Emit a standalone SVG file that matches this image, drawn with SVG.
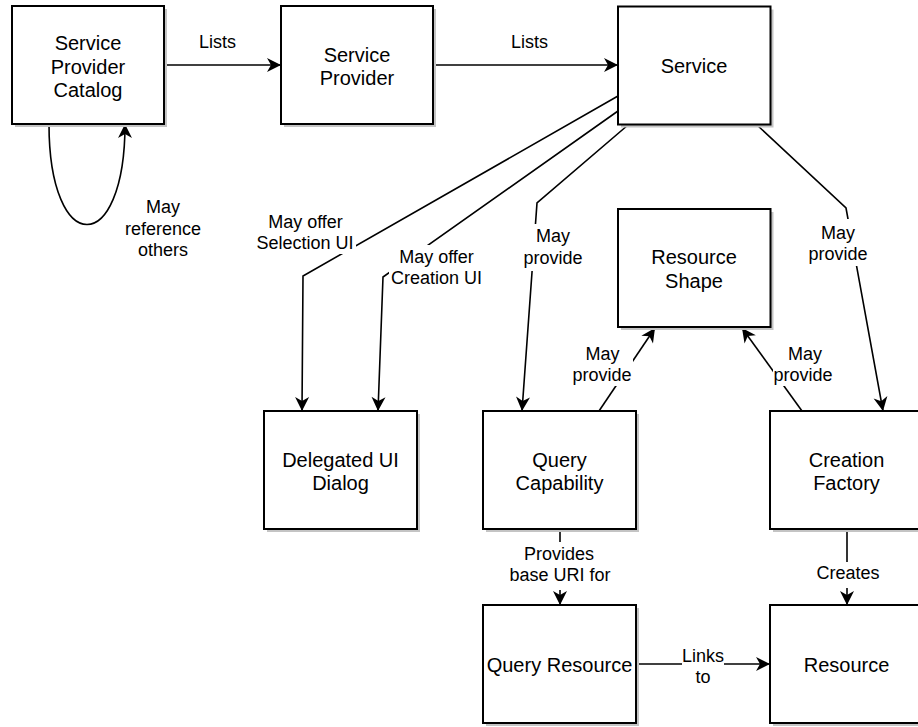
<svg xmlns="http://www.w3.org/2000/svg" width="918" height="727" viewBox="0 0 918 727">
<style>
.box{fill:#fff;stroke:#000;stroke-width:2}
.sh{fill:#c4c4c4}
.nt{font-family:"Liberation Sans",Arial,sans-serif;font-size:20px;fill:#000;text-anchor:middle}
.lt{font-family:"Liberation Sans",Arial,sans-serif;font-size:18px;fill:#000;text-anchor:middle}
.ln{fill:none;stroke:#000;stroke-width:1.6}
.lbg{fill:#fff}
</style>
<defs>
<marker id="arr" viewBox="-15 -8 16 16" refX="0" refY="0" markerWidth="16" markerHeight="16" markerUnits="userSpaceOnUse" orient="auto">
<path d="M0,0 L-14,-7 L-10,0 L-14,7 Z" fill="#000"/>
</marker>
</defs>
<rect width="918" height="727" fill="#fff"/>

<g id="connectors">
<path class="ln" d="M164,65 L281,65" marker-end="url(#arr)"/>
<path class="ln" d="M433,65 L618,65" marker-end="url(#arr)"/>
<path class="ln" d="M49,124 C49,258 125,258 125,124" marker-end="url(#arr)"/>
<path class="ln" d="M618,96 L303,276 L302,411" marker-end="url(#arr)"/>
<path class="ln" d="M618,111 L383,277 L378,411" marker-end="url(#arr)"/>
<path class="ln" d="M628,125 L537,203 L522,411" marker-end="url(#arr)"/>
<path class="ln" d="M757,125 L846,208 L883,411" marker-end="url(#arr)"/>
<path class="ln" d="M599,411 L655,328" marker-end="url(#arr)"/>
<path class="ln" d="M802,411 L742,328" marker-end="url(#arr)"/>
<path class="ln" d="M560,529 L560,605" marker-end="url(#arr)"/>
<path class="ln" d="M847,529 L847,605" marker-end="url(#arr)"/>
<path class="ln" d="M636,664 L770,664" marker-end="url(#arr)"/>

<g id="labels">
<text class="lt" x="217.5" y="48">Lists</text>
<text class="lt" x="529.5" y="48">Lists</text>
<text class="lt" x="163" y="213">May</text>
<text class="lt" x="163" y="234.5">reference</text>
<text class="lt" x="163" y="256">others</text>
<rect class="lbg" x="255" y="211" width="101" height="43"/>
<text class="lt" x="305.5" y="227.5">May offer</text>
<text class="lt" x="305" y="249">Selection UI</text>
<rect class="lbg" x="389" y="245" width="96" height="45"/>
<text class="lt" x="436.5" y="262.5">May offer</text>
<text class="lt" x="436.5" y="284">Creation UI</text>
<rect class="lbg" x="522" y="224" width="63" height="47"/>
<text class="lt" x="553" y="242">May</text>
<text class="lt" x="553" y="263.5">provide</text>
<rect class="lbg" x="806" y="219" width="65" height="47"/>
<text class="lt" x="838" y="238.5">May</text>
<text class="lt" x="838" y="260">provide</text>
<rect class="lbg" x="571" y="345" width="62" height="41"/>
<text class="lt" x="602.5" y="359.5">May</text>
<text class="lt" x="602" y="381">provide</text>
<rect class="lbg" x="773" y="345" width="63" height="41"/>
<text class="lt" x="805" y="359.5">May</text>
<text class="lt" x="803" y="381">provide</text>
<rect class="lbg" x="506" y="542" width="108" height="48"/>
<text class="lt" x="559" y="559.5">Provides</text>
<text class="lt" x="560" y="581">base URI for</text>
<rect class="lbg" x="815" y="562" width="66" height="26"/>
<text class="lt" x="848" y="579">Creates</text>
<rect class="lbg" x="682" y="645" width="42" height="43"/>
<text class="lt" x="703" y="662">Links</text>
<text class="lt" x="703" y="683">to</text>
</g>
</g>

<g id="spc">
<rect class="sh" x="15" y="9" width="152" height="118"/>
<rect class="box" x="12" y="6" width="152" height="118"/>
<text class="nt" x="88" y="50">Service</text>
<text class="nt" x="88" y="73.5">Provider</text>
<text class="nt" x="88" y="97">Catalog</text>
</g>
<g id="sp">
<rect class="sh" x="284" y="9" width="152" height="118"/>
<rect class="box" x="281" y="6" width="152" height="118"/>
<text class="nt" x="357" y="61.5">Service</text>
<text class="nt" x="357" y="85">Provider</text>
</g>
<g id="service">
<rect class="sh" x="621" y="9.5" width="152.5" height="118"/>
<rect class="box" x="618" y="6.5" width="152.5" height="118"/>
<text class="nt" x="694" y="72.5">Service</text>
</g>
<g id="resourceshape">
<rect class="sh" x="621" y="212" width="152.5" height="118"/>
<rect class="box" x="618" y="209" width="152.5" height="118"/>
<text class="nt" x="694" y="264">Resource</text>
<text class="nt" x="694" y="287.5">Shape</text>
</g>
<g id="delegated">
<rect class="sh" x="267" y="414" width="153" height="118"/>
<rect class="box" x="264" y="411" width="153" height="118"/>
<text class="nt" x="340.5" y="466.5">Delegated UI</text>
<text class="nt" x="340.5" y="490">Dialog</text>
</g>
<g id="querycap">
<rect class="sh" x="486" y="414" width="153" height="118"/>
<rect class="box" x="483" y="411" width="153" height="118"/>
<text class="nt" x="559.5" y="466.5">Query</text>
<text class="nt" x="559.5" y="490">Capability</text>
</g>
<g id="creationfactory">
<rect class="sh" x="773" y="414" width="153" height="118"/>
<rect class="box" x="770" y="411" width="153" height="118"/>
<text class="nt" x="846.5" y="467">Creation</text>
<text class="nt" x="846.5" y="490">Factory</text>
</g>
<g id="queryresource">
<rect class="sh" x="486" y="608" width="153" height="118"/>
<rect class="box" x="483" y="605" width="153" height="118"/>
<text class="nt" x="559.5" y="671.5">Query Resource</text>
</g>
<g id="resource">
<rect class="sh" x="773" y="608" width="153" height="118"/>
<rect class="box" x="770" y="605" width="153" height="118"/>
<text class="nt" x="846.5" y="671.5">Resource</text>
</g>
</svg>
